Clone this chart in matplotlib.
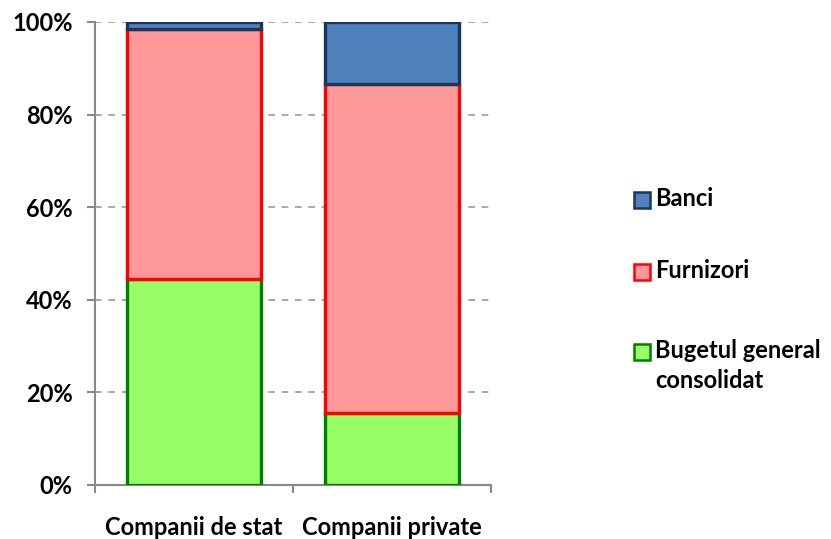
import numpy as np
import matplotlib.pyplot as plt
from matplotlib.patches import Rectangle

categories = ["Companii de stat", "Companii private"]
series = ["Bugetul general\nconsolidat", "Furnizori", "Banci"]
bugetul = [44.5, 15.5]
furnizori = [54.0, 71.1]
banci = [1.5, 13.4]
yticks = [0, 20, 40, 60, 80, 100]

fills = ["#99FF66", "#FF9999", "#4F81BD"]
edges = ["#008000", "#FF0000", "#17375E"]

plt.rcParams['font.family'] = ['Lato', 'DejaVu Sans']
plt.rcParams['font.weight'] = 'bold'

fig = plt.figure(figsize=(8.31, 5.39), dpi=100)
ax = fig.add_axes([0.1143, 0.1002, 0.4766, 0.859])

x = np.arange(len(categories))
bottom = np.zeros(len(categories))
for vals, fc, ec in zip([bugetul, furnizori, banci], fills, edges):
    ax.bar(x, vals, 0.675, bottom=bottom, color=fc, edgecolor=ec, linewidth=2.4, zorder=3)
    bottom += np.array(vals)

ax.set_xlim(-0.5, 1.5)
ax.set_ylim(0, 100)
ax.set_yticks(yticks)
ax.set_yticklabels([f"{v}%" for v in yticks], fontsize=17, fontweight='bold')
ax.yaxis.grid(True, linestyle=(0, (4, 4)), color="#999999", linewidth=1.2, zorder=0)
ax.set_xticks([-0.5, 0.5, 1.5])
ax.set_xticklabels([])
ax.set_xticks(x, minor=True)
ax.set_xticklabels(categories, minor=True, fontsize=17, fontweight='bold')
ax.tick_params(axis='x', which='minor', length=0, pad=22)
ax.tick_params(axis='both', which='major', length=6, color="#888888", width=1.5)
ax.tick_params(axis='y', pad=10)
for s in ["top", "right"]:
    ax.spines[s].set_visible(False)
for s in ["left", "bottom"]:
    ax.spines[s].set_color("#888888")
    ax.spines[s].set_linewidth(1.5)
ax.spines["left"].set_zorder(4)

# legend, drawn top to bottom
leg_y = [200, 272, 352]
for yy, lab, fc, ec in zip(leg_y, series[::-1], fills[::-1], edges[::-1]):
    fy = 1 - yy / 539
    fig.patches.append(Rectangle((634 / 831, fy - 8 / 539), 16 / 831, 16 / 539,
                                 transform=fig.transFigure, facecolor=fc,
                                 edgecolor=ec, linewidth=1.8))
    fig.text(655 / 831, fy + 13 / 539, lab, fontsize=17, fontweight='bold',
             va='top', ha='left', linespacing=1.35)

fig.savefig("out.png", dpi=100)
